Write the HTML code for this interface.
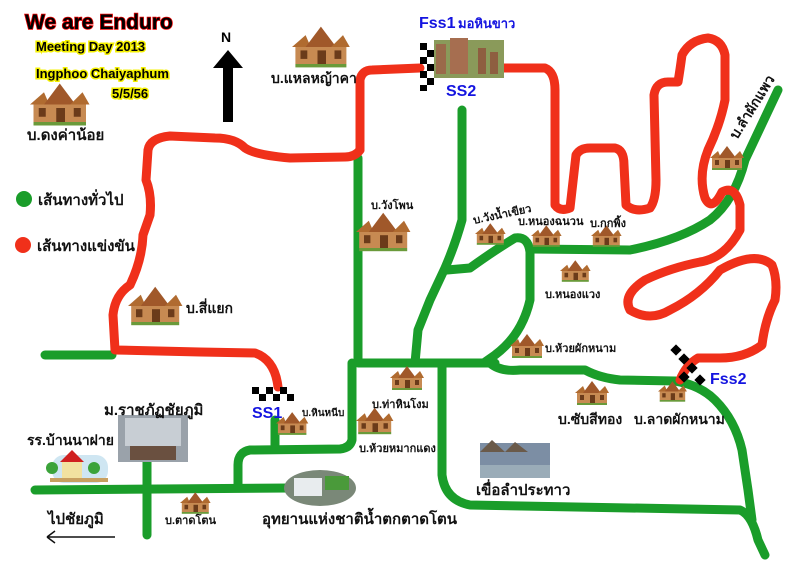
<!DOCTYPE html>
<html><head><meta charset="utf-8"><style>
html,body{margin:0;padding:0;background:#fff;}
svg{display:block}
text{font-family:"Liberation Sans","Noto Sans CJK SC",sans-serif;font-weight:bold;}
</style></head><body>
<svg width="800" height="566" viewBox="0 0 800 566" xmlns="http://www.w3.org/2000/svg">
<defs>
<g id="h">
<rect x="2" y="20" width="30" height="2" fill="#6a9a3a"/>
<polygon points="0,10 8,3 11,10" fill="#b06b30"/>
<polygon points="8,10 17,-2 26,10" fill="#a0582a"/>
<polygon points="23,10 30,3 34,10" fill="#b06b30"/>
<rect x="2" y="10" width="30" height="10" fill="#c78a52"/>
<rect x="5" y="12" width="4" height="5" fill="#6b3b1a"/>
<rect x="15" y="12" width="5" height="8" fill="#6b3b1a"/>
<rect x="25" y="12" width="4" height="5" fill="#6b3b1a"/>
</g>
</defs>
<rect width="800" height="566" fill="#fff"/>
<g fill="none" stroke="#1a9d2a" stroke-width="9" stroke-linecap="round" stroke-linejoin="round">
<path d="M358,158 L358,363 L495,363"/>
<path d="M45,355 L112,355"/>
<path d="M462,110 L462,220 Q455,245 445,268 L430,300 L418,330 L415,363"/>
<path d="M447,270 L470,268 Q495,250 515,238 Q528,236 530,252 L530,300 Q522,335 495,355 L485,362"/>
<path d="M530,249 L630,250 Q680,240 710,220 Q735,200 745,160 L778,90"/>
<path d="M352,363 L352,440 Q350,448 340,449 L250,450 Q238,452 238,465 L238,488"/>
<path d="M275,420 L275,445"/>
<path d="M35,490 L290,488"/>
<path d="M147,462 L147,535"/>
<path d="M442,363 L442,475 Q445,500 470,505 L740,510 Q752,515 758,540 L765,555"/>
<path d="M490,363 Q500,372 520,370 L585,370 Q600,378 620,380 L675,381 Q700,385 715,400 Q735,420 742,450 L748,490 L752,520"/>
</g>
<g fill="none" stroke="#f0301a" stroke-width="9" stroke-linecap="round" stroke-linejoin="round">
<path d="M360,150 Q355,157 345,157 L290,158 Q255,155 245,148 Q235,138 215,138 L170,136 Q150,138 148,150 L146,180 Q152,195 150,215 L143,235 Q142,260 130,285 Q115,295 113,315 L115,350 L200,352 L255,353 Q275,360 278,387"/>
<path d="M360,150 L360,80 Q362,70 372,70 L420,68"/>
<path d="M500,68 L545,68 Q555,72 555,90 L555,205 Q560,212 570,208 L576,155 Q580,148 590,148 L615,148 Q624,150 624,165 L626,205 Q635,213 650,208 Q656,200 656,180 L654,95 Q656,82 668,82 L678,82 Q680,70 682,55 Q690,40 708,38 Q722,40 725,55 L725,100 Q720,125 708,150 Q698,175 705,198 Q712,212 722,192 Q735,185 740,205 L740,230 Q725,258 700,262 Q670,268 645,280 Q622,295 630,310 Q650,322 670,310 Q700,295 720,270 Q755,250 772,265 Q778,280 775,300 Q765,320 762,345 Q745,358 720,358 L698,358 Q686,365 680,380"/>
</g>
<g fill="#000">
<rect x="420" y="43" width="7" height="7"/><rect x="427" y="50" width="7" height="7"/><rect x="420" y="57" width="7" height="7"/><rect x="427" y="64" width="7" height="7"/><rect x="420" y="71" width="7" height="7"/><rect x="427" y="78" width="7" height="7"/><rect x="420" y="85" width="7" height="6"/>
<rect x="252" y="387" width="7" height="7"/><rect x="266" y="387" width="7" height="7"/><rect x="280" y="387" width="7" height="7"/><rect x="259" y="394" width="7" height="7"/><rect x="273" y="394" width="7" height="7"/><rect x="287" y="394" width="7" height="7"/>
<rect x="672" y="346" width="8" height="8" transform="rotate(45 676 350)"/><rect x="680" y="355" width="8" height="8" transform="rotate(45 684 359)"/><rect x="688" y="364" width="8" height="8" transform="rotate(45 692 368)"/><rect x="680" y="373" width="8" height="8" transform="rotate(45 684 377)"/><rect x="696" y="376" width="8" height="8" transform="rotate(45 700 380)"/>
</g>
<rect x="434" y="40" width="70" height="38" fill="#8a9a5a"/>
<rect x="436" y="44" width="10" height="30" fill="#9a6a4a"/><rect x="450" y="38" width="18" height="36" fill="#a66e50"/><rect x="478" y="48" width="8" height="26" fill="#8e5e40"/><rect x="490" y="52" width="8" height="22" fill="#8e5e40"/>
<rect x="118" y="415" width="70" height="47" fill="#9aa2aa"/><rect x="125" y="418" width="56" height="28" fill="#c8ced4"/><rect x="130" y="446" width="46" height="14" fill="#6a5040"/>
<g><rect x="52" y="455" width="56" height="28" rx="12" fill="#cfe6f2"/><polygon points="60,462 72,450 84,462" fill="#d02020"/><rect x="62" y="462" width="20" height="16" fill="#f2e2a0"/><circle cx="52" cy="468" r="6" fill="#3ba33a"/><circle cx="94" cy="468" r="6" fill="#3ba33a"/><rect x="50" y="478" width="58" height="4" fill="#c8a060"/></g>
<ellipse cx="320" cy="488" rx="36" ry="18" fill="#7a8878"/><rect x="294" y="478" width="28" height="18" fill="#e8ecee"/><rect x="325" y="476" width="24" height="14" fill="#4a9a3a"/>
<rect x="480" y="443" width="70" height="35" fill="#7c8ea4"/><polygon points="480,452 492,440 505,452" fill="#6a5a4a"/><polygon points="505,452 515,442 528,452" fill="#6a5a4a"/><rect x="480" y="465" width="70" height="13" fill="#9aacb8"/>
<use href="#h" transform="translate(292,30) scale(1.7)"/>
<use href="#h" transform="translate(30,87) scale(1.75)"/>
<use href="#h" transform="translate(128,290) scale(1.6)"/>
<use href="#h" transform="translate(356,216) scale(1.6)"/>
<use href="#h" transform="translate(475,225) scale(0.9)"/>
<use href="#h" transform="translate(531,227) scale(0.9)"/>
<use href="#h" transform="translate(591,227) scale(0.9)"/>
<use href="#h" transform="translate(560,262) scale(0.9)"/>
<use href="#h" transform="translate(510,336) scale(1.0)"/>
<use href="#h" transform="translate(390,368) scale(1.0)"/>
<use href="#h" transform="translate(356,410) scale(1.1)"/>
<use href="#h" transform="translate(276,414) scale(0.95)"/>
<use href="#h" transform="translate(575,383) scale(1.0)"/>
<use href="#h" transform="translate(658,383) scale(0.85)"/>
<use href="#h" transform="translate(180,494) scale(0.9)"/>
<use href="#h" transform="translate(710,148) scale(1.0)"/>
<polygon points="228,50 243,68 233,68 233,122 223,122 223,68 213,68" fill="#000"/>
<text x="221" y="42" font-size="14" fill="#000">N</text>
<text x="25" y="29" font-size="21" fill="#000" stroke="#e00" stroke-width="1.5" paint-order="stroke">We are Enduro</text>
<text x="36" y="51" font-size="13" fill="#000" stroke="#f4f000" stroke-width="3" paint-order="stroke">Meeting Day 2013</text>
<text x="36" y="78" font-size="13" fill="#000" stroke="#f4f000" stroke-width="3" paint-order="stroke">Ingphoo Chaiyaphum</text>
<text x="112" y="98" font-size="13" fill="#000" stroke="#f4f000" stroke-width="3" paint-order="stroke">5/5/56</text>
<text x="27" y="140" font-size="15" fill="#111">บ.ดงค่าน้อย</text>
<circle cx="24" cy="199" r="8" fill="#1a9d2a"/><text x="38" y="205" font-size="15" fill="#111">เส้นทางทั่วไป</text>
<circle cx="23" cy="245" r="8" fill="#f0301a"/><text x="37" y="251" font-size="15" fill="#111">เส้นทางแข่งขัน</text>
<text x="271" y="83" font-size="14" fill="#111">บ.แหลหญ้าคา</text>
<text x="419" y="28" font-size="16" fill="#1414e0">Fss1</text><text x="458" y="28" font-size="13" fill="#1414e0">มอหินขาว</text>
<text x="446" y="96" font-size="16" fill="#1414e0">SS2</text>
<text x="371" y="209" font-size="11" fill="#111">บ.วังโพน</text>
<text x="474" y="224" font-size="11" fill="#111" transform="rotate(-12 474 224)">บ.วังน้ำเขียว</text>
<text x="518" y="225" font-size="11" fill="#111">บ.หนองฉนวน</text>
<text x="590" y="227" font-size="11" fill="#111">บ.กกพิ้ง</text>
<text x="545" y="298" font-size="11" fill="#111">บ.หนองแวง</text>
<text x="545" y="352" font-size="11" fill="#111">บ.ห้วยผักหนาม</text>
<text x="737" y="140" font-size="14" fill="#111" transform="rotate(-58 737 140)">บ.ลำผักแพว</text>
<text x="186" y="313" font-size="14" fill="#111">บ.สี่แยก</text>
<text x="252" y="418" font-size="16" fill="#1414e0">SS1</text>
<text x="302" y="416" font-size="10" fill="#111">บ.หินหนีบ</text>
<text x="372" y="408" font-size="11" fill="#111">บ.ท่าหินโงม</text>
<text x="359" y="452" font-size="11" fill="#111">บ.ห้วยหมากแดง</text>
<text x="104" y="415" font-size="15" fill="#111">ม.ราชภัฏชัยภูมิ</text>
<text x="27" y="445" font-size="14" fill="#111">รร.บ้านนาฝาย</text>
<text x="48" y="524" font-size="15" fill="#111">ไปชัยภูมิ</text>
<path d="M47,537 L115,537 M47,537 L55,531 M47,537 L55,543" stroke="#111" stroke-width="1.5" fill="none"/>
<text x="165" y="524" font-size="11" fill="#111">บ.ตาดโตน</text>
<text x="262" y="524" font-size="15" fill="#111">อุทยานแห่งชาติน้ำตกตาดโตน</text>
<text x="476" y="495" font-size="15" fill="#111">เขื่อลำประทาว</text>
<text x="558" y="424" font-size="14" fill="#111">บ.ซับสีทอง</text>
<text x="634" y="424" font-size="14" fill="#111">บ.ลาดผักหนาม</text>
<text x="710" y="384" font-size="16" fill="#1414e0">Fss2</text>
</svg>
</body></html>
